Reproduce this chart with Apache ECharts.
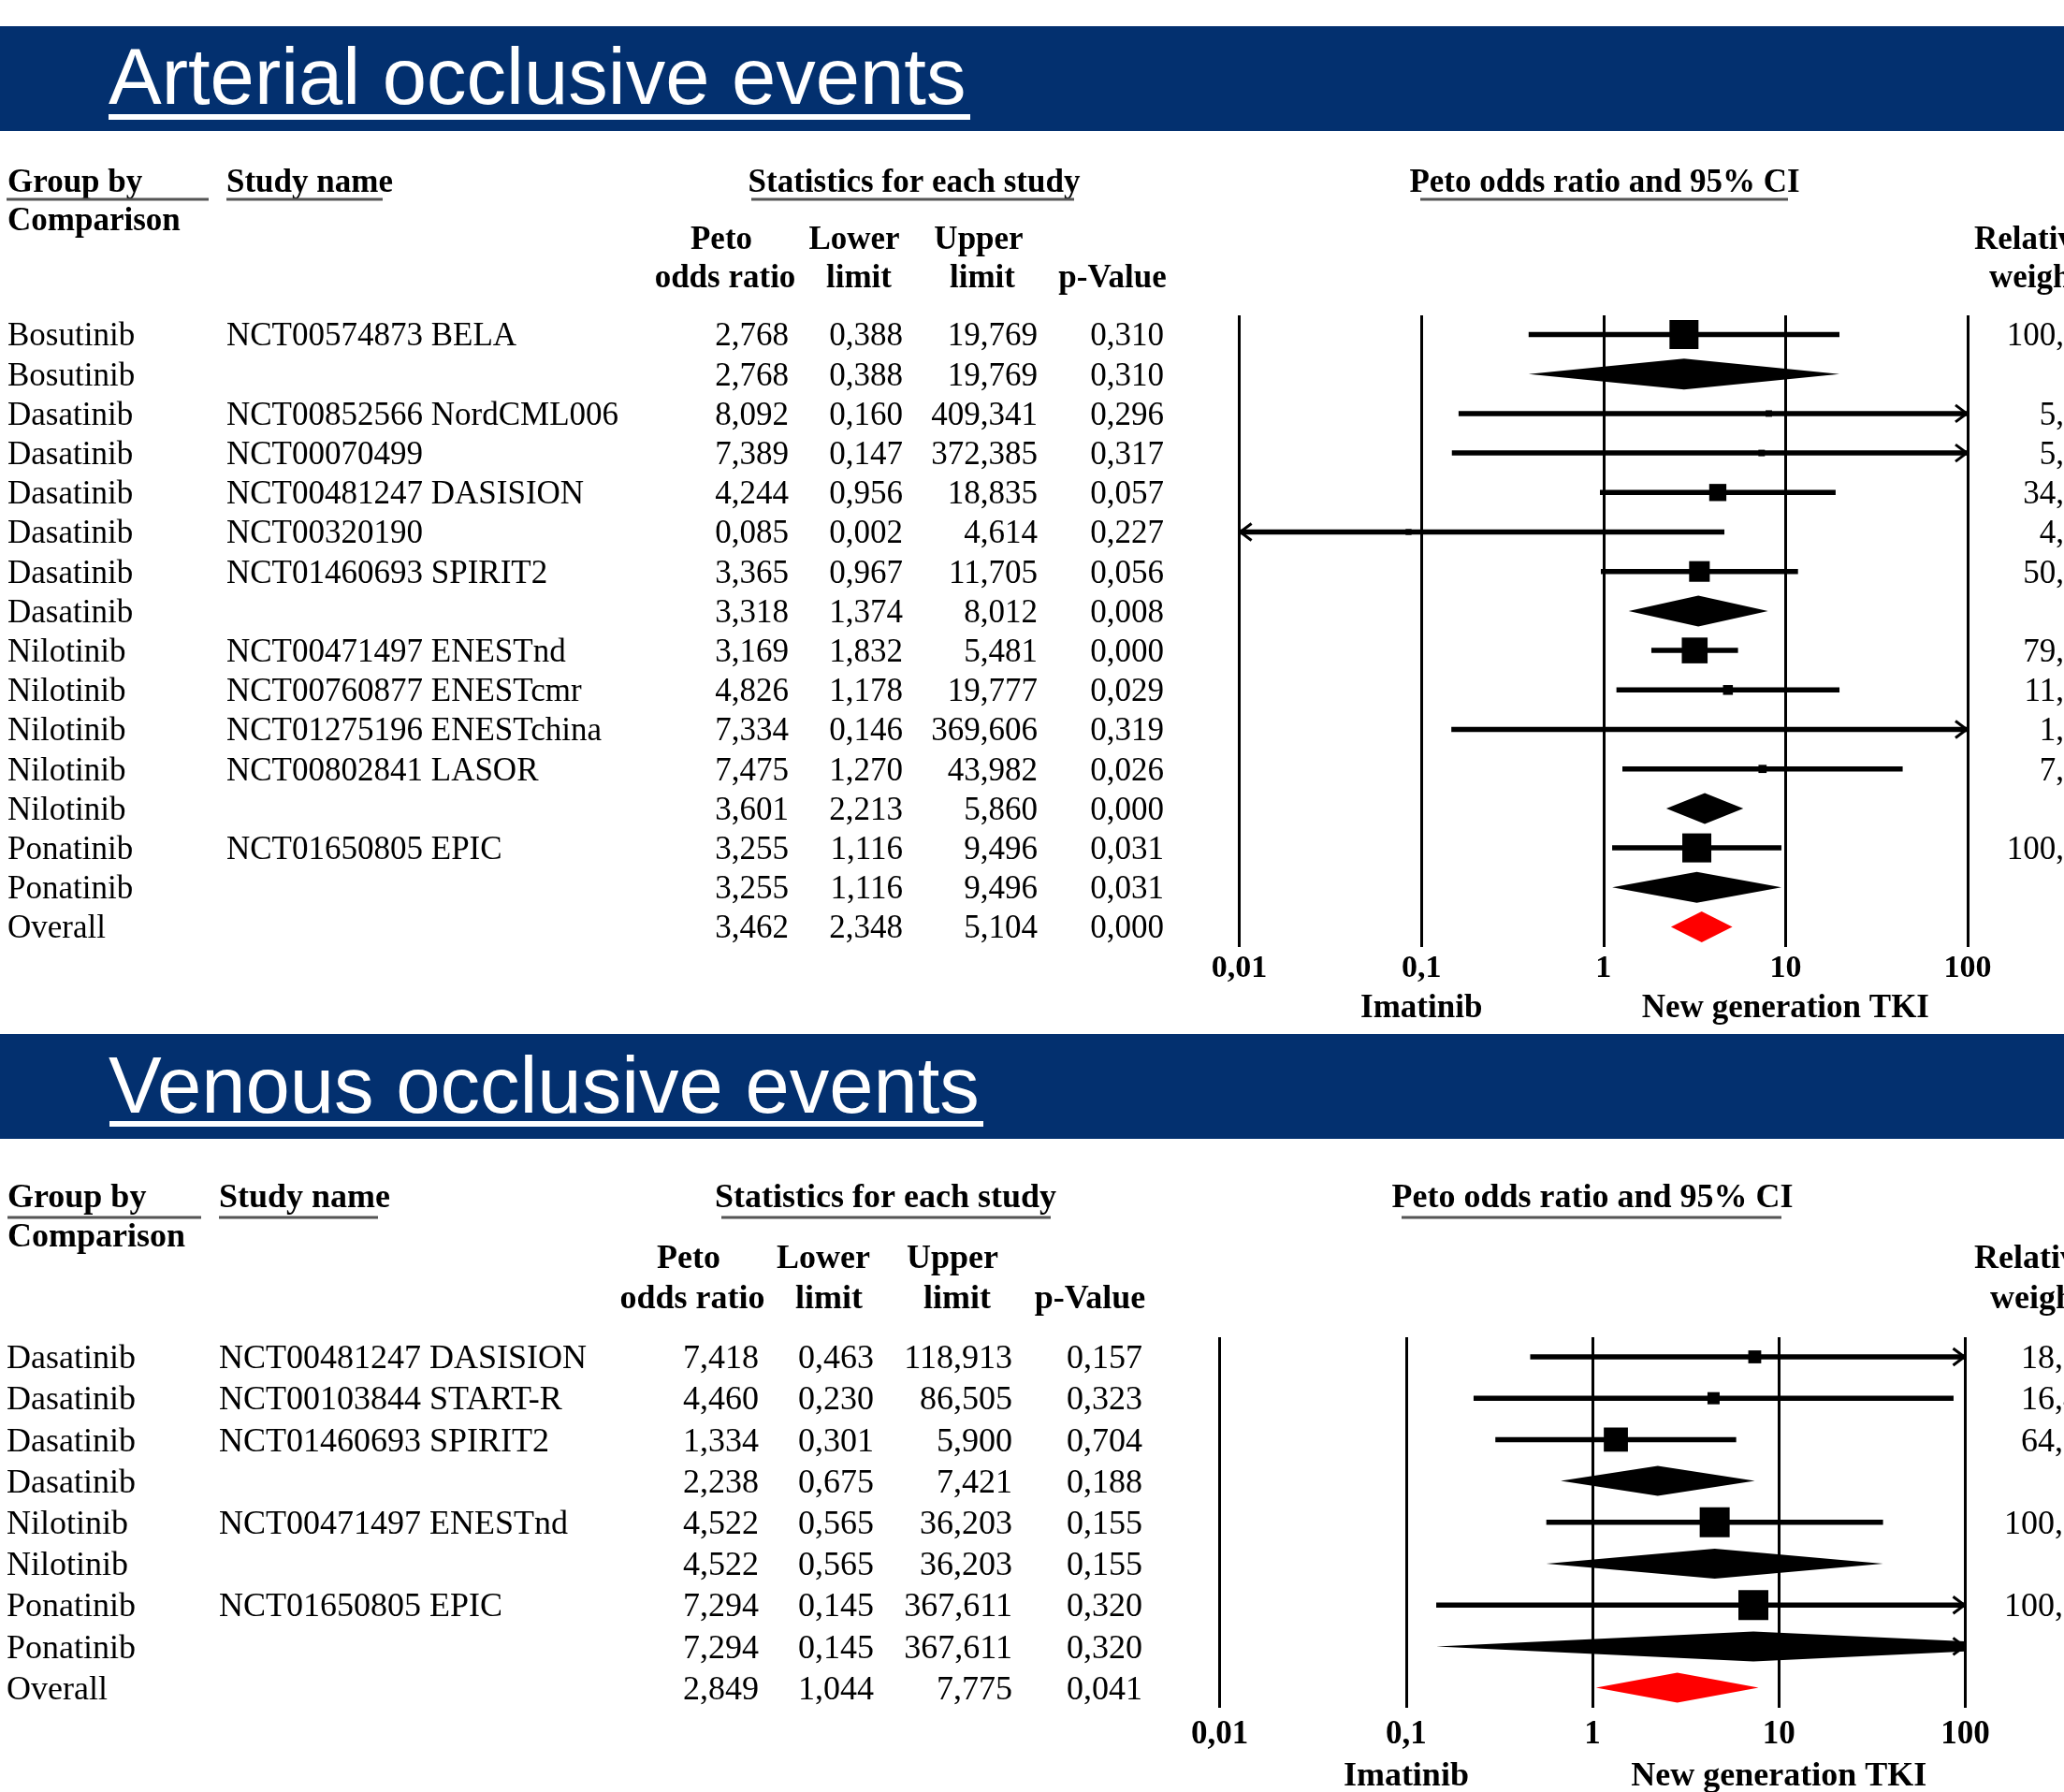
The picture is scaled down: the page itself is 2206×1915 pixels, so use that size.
<!DOCTYPE html>
<html><head><meta charset="utf-8">
<script src="https://cdn.jsdelivr.net/npm/echarts@6/dist/echarts.min.js"></script>
<style>html,body{margin:0;padding:0;background:#fff}#c{width:2206px;height:1915px}</style>
</head><body><div id="c"></div>
<script>
// ---------- Arterial occlusive events ----------
const aoeGroups = ['Bosutinib','Bosutinib','Dasatinib','Dasatinib','Dasatinib','Dasatinib','Dasatinib','Dasatinib','Nilotinib','Nilotinib','Nilotinib','Nilotinib','Nilotinib','Ponatinib','Ponatinib','Overall'];
const aoeStudies = ['NCT00574873 BELA','','NCT00852566 NordCML006','NCT00070499','NCT00481247 DASISION','NCT00320190','NCT01460693 SPIRIT2','','NCT00471497 ENESTnd','NCT00760877 ENESTcmr','NCT01275196 ENESTchina','NCT00802841 LASOR','','NCT01650805 EPIC','',''];
const aoeOR    = [2.768,2.768,8.092,7.389,4.244,0.085,3.365,3.318,3.169,4.826,7.334,7.475,3.601,3.255,3.255,3.462];
const aoeLower = [0.388,0.388,0.160,0.147,0.956,0.002,0.967,1.374,1.832,1.178,0.146,1.270,2.213,1.116,1.116,2.348];
const aoeUpper = [19.769,19.769,409.341,372.385,18.835,4.614,11.705,8.012,5.481,19.777,369.606,43.982,5.860,9.496,9.496,5.104];
const aoeP     = [0.310,0.310,0.296,0.317,0.057,0.227,0.056,0.008,0.000,0.029,0.319,0.026,0.000,0.031,0.031,0.000];
const aoeWeight= [100.00,null,5.04,5.06,34.97,4.25,50.68,null,79.08,11.56,1.45,7.91,null,100.00,null,null];
const aoeKind  = ['study','subtotal','study','study','study','study','study','subtotal','study','study','study','study','subtotal','study','subtotal','overall'];

// ---------- Venous occlusive events ----------
const voeGroups = ['Dasatinib','Dasatinib','Dasatinib','Dasatinib','Nilotinib','Nilotinib','Ponatinib','Ponatinib','Overall'];
const voeStudies = ['NCT00481247 DASISION','NCT00103844 START-R','NCT01460693 SPIRIT2','','NCT00471497 ENESTnd','','NCT01650805 EPIC','',''];
const voeOR    = [7.418,4.460,1.334,2.238,4.522,4.522,7.294,7.294,2.849];
const voeLower = [0.463,0.230,0.301,0.675,0.565,0.565,0.145,0.145,1.044];
const voeUpper = [118.913,86.505,5.900,7.421,36.203,36.203,367.611,367.611,7.775];
const voeP     = [0.157,0.323,0.704,0.188,0.155,0.155,0.320,0.320,0.041];
const voeWeight= [18.61,16.47,64.92,null,100.00,null,100.00,null,null];
const voeKind  = ['study','study','study','subtotal','study','subtotal','study','subtotal','overall'];

const axisTicks = [0.01, 0.1, 1, 10, 100];
const titles = ['Arterial occlusive events', 'Venous occlusive events'];
const footLabels = ['Imatinib', 'New generation TKI'];

const SERIF = '"Liberation Serif","Times New Roman",serif';
const SANS = '"Liberation Sans",Arial,sans-serif';
const NAVY = '#03306f';
const VOFF = 0.075; // em-middle -> cap-centre correction

const panels = [
  {groups:aoeGroups, studies:aoeStudies, or:aoeOR, lo:aoeLower, hi:aoeUpper, p:aoeP, w:aoeWeight, kind:aoeKind,
   fs:35, gridTop:337, gridBottom:1012, rowFirst:357.5, rowStep:42.2, axisLeft:1324.6, decade:194.6,
   colGroup:8, colStudy:242, colOR:843, colLo:965, colHi:1109, colP:1244, colW:2241,
   sq:31, dh:16.5, lw:5.5, footY:1078, labelMargin:6, tickFs:34},
  {groups:voeGroups, studies:voeStudies, or:voeOR, lo:voeLower, hi:voeUpper, p:voeP, w:voeWeight, kind:voeKind,
   fs:36, gridTop:1429, gridBottom:1825, rowFirst:1450, rowStep:44.2, axisLeft:1303.7, decade:199.2,
   colGroup:7, colStudy:234, colOR:811, colLo:934, colHi:1082, colP:1221, colW:2241,
   sq:32, dh:16, lw:5.5, footY:1899, labelMargin:11, tickFs:35}
];

const fmt3 = v => v.toFixed(3).replace('.', ',');
const fmt2 = v => v.toFixed(2).replace('.', ',');
const LMIN = 0.01, LMAX = 100;

function makeRender(P) {
  return function (params, api) {
    const i = api.value(1);
    const y = api.coord([1, i])[1];
    const X = v => api.coord([v, i])[0];
    const xmin = X(LMIN), xmax = X(LMAX);
    const xc = X(P.or[i]);
    const xL = X(P.lo[i]), xR = X(P.hi[i]);
    const xl = Math.max(xL, xmin), xr = Math.min(xR, xmax);
    const ch = [];
    const k = P.kind[i];
    if (k === 'study') {
      ch.push({type:'line', shape:{x1:xl, y1:y, x2:xr, y2:y}, style:{stroke:'#000', lineWidth:P.lw}});
      const s = P.sq * Math.sqrt(P.w[i] / 100);
      ch.push({type:'rect', shape:{x:xc - s/2, y:y - s/2, width:s, height:s}, style:{fill:'#000'}});
    } else {
      const pts = [];
      if (xL < xmin) { const h = P.dh * (xmin - xL) / (xc - xL); pts.push([xmin, y + h], [xmin, y - h]); }
      else pts.push([xL, y]);
      pts.push([xc, y - P.dh]);
      if (xR > xmax) { const h = P.dh * (xR - xmax) / (xR - xc); pts.push([xmax, y - h], [xmax, y + h]); }
      else pts.push([xR, y]);
      pts.push([xc, y + P.dh]);
      ch.push({type:'polygon', shape:{points:pts}, style:{fill: k === 'overall' ? '#ff0000' : '#000'}});
    }
    if (P.hi[i] > LMAX) {
      ch.push({type:'polyline', shape:{points:[[xmax - 13, y - 9], [xmax - 1, y], [xmax - 13, y + 9]]}, style:{stroke:'#000', lineWidth:3, fill:null}});
    }
    if (P.lo[i] < LMIN) {
      ch.push({type:'polyline', shape:{points:[[xmin + 13, y - 9], [xmin + 1, y], [xmin + 13, y + 9]]}, style:{stroke:'#000', lineWidth:3, fill:null}});
    }
    const font = P.fs + 'px ' + SERIF;
    const ty = y + VOFF * P.fs;
    const t = (x, s, align) => ({type:'text', style:{text:s, x:x, y:ty, fill:'#000', font:font, align:align, verticalAlign:'middle'}});
    ch.push(t(P.colGroup, P.groups[i], 'left'));
    if (P.studies[i]) ch.push(t(P.colStudy, P.studies[i], 'left'));
    ch.push(t(P.colOR, fmt3(P.or[i]), 'right'));
    ch.push(t(P.colLo, fmt3(P.lo[i]), 'right'));
    ch.push(t(P.colHi, fmt3(P.hi[i]), 'right'));
    ch.push(t(P.colP, fmt3(P.p[i]), 'right'));
    if (P.w[i] != null) ch.push(t(P.colW, fmt2(P.w[i]), 'right'));
    if (i === 0) {
      const bf = 'bold ' + P.fs + 'px ' + SERIF;
      ch.push({type:'text', style:{text:footLabels[0], x:X(axisTicks[1]), y:P.footY, fill:'#000', font:bf, align:'center', verticalAlign:'middle'}});
      ch.push({type:'text', style:{text:footLabels[1], x:X(axisTicks[3]), y:P.footY, fill:'#000', font:bf, align:'center', verticalAlign:'middle'}});
    }
    return {type:'group', children:ch};
  };
}

const grids = [], xAxes = [], yAxes = [], series = [];
panels.forEach((P, g) => {
  const n = P.groups.length;
  const rowLast = P.rowFirst + (n - 1) * P.rowStep;
  grids.push({left:P.axisLeft, width:4 * P.decade, top:P.gridTop, height:P.gridBottom - P.gridTop, containLabel:false});
  xAxes.push({type:'log', logBase:10, min:axisTicks[0], max:axisTicks[4], gridIndex:g, splitNumber:4,
    axisLine:{show:false}, axisTick:{show:false}, minorTick:{show:false},
    splitLine:{show:true, showMinLine:true, showMaxLine:true, lineStyle:{color:'#000', width:3}},
    axisLabel:{show:true, margin:P.labelMargin, color:'#000', fontFamily:SERIF, fontWeight:'bold', fontSize:P.tickFs, lineHeight:P.tickFs,
      formatter: v => String(+(+v).toPrecision(6)).replace('.', ',')}});
  yAxes.push({type:'value', gridIndex:g, inverse:true, show:false,
    min: -(P.rowFirst - P.gridTop) / P.rowStep,
    max: (n - 1) + (P.gridBottom - rowLast) / P.rowStep});
  series.push({type:'custom', xAxisIndex:g, yAxisIndex:g, renderItem:makeRender(P), silent:true,
    data: P.groups.map((_, i) => [1, i]), animation:false});
});

// static headers / banners
const gfx = [];
function banner(y0, y1, title, ty, ul) {
  gfx.push({type:'rect', shape:{x:0, y:y0, width:2206, height:y1 - y0}, style:{fill:NAVY}, z:0});
  gfx.push({type:'text', style:{text:title, x:116, y:ty + VOFF * 85, fill:'#fff', font:'85px ' + SANS, align:'left', verticalAlign:'middle'}, z:1});
  gfx.push({type:'rect', shape:{x:ul[0], y:ul[2] - 3, width:ul[1] - ul[0], height:6}, style:{fill:'#fff'}, z:1});
}
banner(28, 140, titles[0], 81, [116, 1037, 125]);
banner(1105, 1217, titles[1], 1159, [117, 1051, 1201]);

function hdr(text, x, y, align, fs) {
  gfx.push({type:'text', style:{text:text, x:x, y:y + VOFF * fs, fill:'#000', font:'bold ' + fs + 'px ' + SERIF, align:align, verticalAlign:'middle'}});
}
function uline(x0, x1, y) {
  gfx.push({type:'rect', shape:{x:x0, y:y - 1.5, width:x1 - x0, height:3}, style:{fill:'#555'}});
}
// top headers
hdr('Group by', 8, 193.5, 'left', 35); hdr('Comparison', 8, 234, 'left', 35); hdr('Study name', 242, 193.5, 'left', 35);
hdr('Statistics for each study', 977, 193.5, 'center', 35); hdr('Peto odds ratio and 95% CI', 1715, 193.5, 'center', 35);
hdr('Peto', 771, 254, 'center', 35); hdr('odds ratio', 775, 295, 'center', 35);
hdr('Lower', 913, 254, 'center', 35); hdr('limit', 918, 295, 'center', 35);
hdr('Upper', 1046, 254, 'center', 35); hdr('limit', 1050, 295, 'center', 35);
hdr('p-Value', 1189, 295, 'center', 35);
hdr('Relative', 2110, 254, 'left', 35); hdr('weight', 2126, 295, 'left', 35);
uline(7, 223, 213); uline(242, 409, 213); uline(803, 1148, 213); uline(1518, 1911, 213);
// bottom headers
hdr('Group by', 8, 1278.5, 'left', 36); hdr('Comparison', 8, 1320, 'left', 36); hdr('Study name', 234, 1278.5, 'left', 36);
hdr('Statistics for each study', 946.5, 1278.5, 'center', 36); hdr('Peto odds ratio and 95% CI', 1702, 1278.5, 'center', 36);
hdr('Peto', 736, 1343, 'center', 36); hdr('odds ratio', 740, 1386, 'center', 36);
hdr('Lower', 880, 1343, 'center', 36); hdr('limit', 886, 1386, 'center', 36);
hdr('Upper', 1018, 1343, 'center', 36); hdr('limit', 1023, 1386, 'center', 36);
hdr('p-Value', 1165, 1386, 'center', 36);
hdr('Relative', 2110, 1343, 'left', 36); hdr('weight', 2127, 1386, 'left', 36);
uline(8, 215, 1301); uline(234, 404, 1301); uline(771, 1123, 1301); uline(1498, 1904, 1301);

const chart = echarts.init(document.getElementById('c'), null, {renderer:'canvas'});
chart.setOption({
  backgroundColor:'#fff',
  animation:false,
  grid:grids, xAxis:xAxes, yAxis:yAxes, series:series,
  graphic:{elements:gfx}
});
</script></body></html>
